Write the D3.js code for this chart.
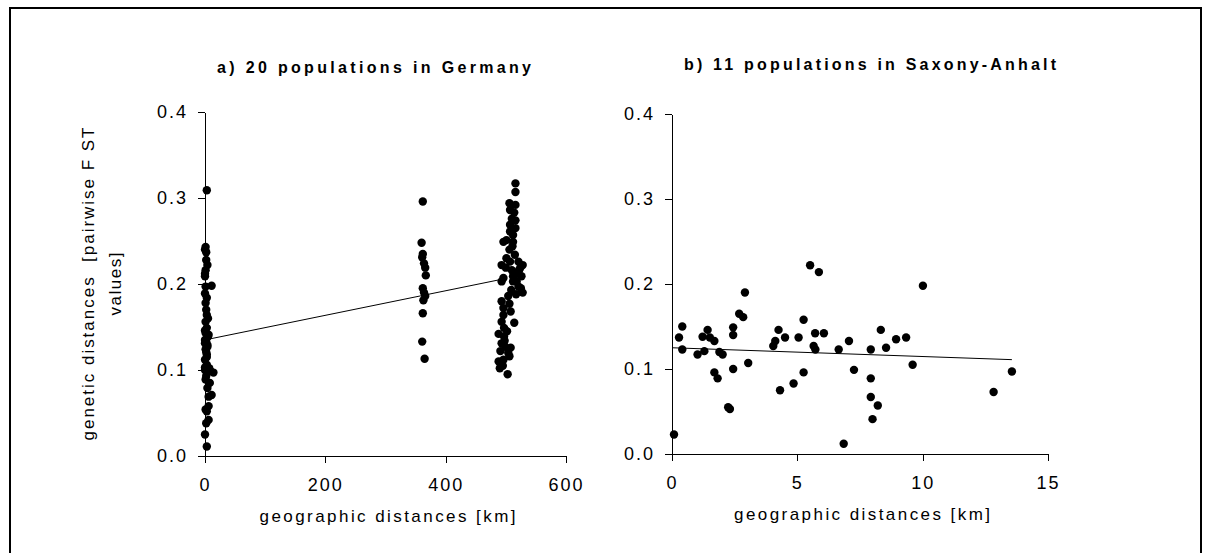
<!DOCTYPE html>
<html lang="en">
<head>
<meta charset="UTF-8">
<title>Genetic vs geographic distances</title>
<script src="https://d3js.org/d3.v7.min.js"></script>
<style>
    body { margin: 0; background: #fff; }
    text { font-family: Arial, "Liberation Sans", sans-serif; fill: #000; }
</style>
</head>
<body>
<script>
    // a) 20 populations in Germany: pairwise distance (km) and FST
    const germanyKm = [
        3, 1, 0, 2, 4, 1, 0, 11, 1, 0, 3, 1, 3, 1, 3, 1, 5, 0, 4, 1, 3, 0, 3, 0, 5, 14, 1, 8, 4, 11, 6, 6, 1, 6, 0, 3,
        2, 0, 2, 5, 0, 6, 2, 0, 4, 2, 3, 0, 2, 7, 9, 3, 2,
        362, 360, 362, 361, 364, 366, 367, 362, 364, 366, 363, 362, 361, 365,
        516, 516, 506, 516, 507, 510, 516, 507, 516, 507, 512, 501, 496, 512, 506, 515, 501, 493, 507, 521, 528, 510,
        522, 496, 512, 526, 518, 493, 512, 521, 528, 493, 506, 496, 508, 496, 493, 514, 497, 488, 497, 493, 499, 508,
        491, 506, 496, 488, 490, 503, 519, 524, 500, 509, 504, 517, 498, 502, 511, 514, 504, 495, 525
    ];
    const germanyFst = [
        0.309, 0.243, 0.240, 0.228, 0.222, 0.216, 0.209, 0.198, 0.197, 0.189, 0.184, 0.178, 0.164, 0.156, 0.149, 0.143,
        0.139, 0.135, 0.129, 0.124, 0.118, 0.112, 0.106, 0.100, 0.098, 0.097, 0.089, 0.085, 0.079, 0.071, 0.069, 0.058,
        0.054, 0.042, 0.025, 0.011,
        0.237, 0.212, 0.170, 0.160, 0.146, 0.141, 0.133, 0.131, 0.127, 0.121, 0.115, 0.103, 0.093, 0.102, 0.099, 0.052, 0.038,
        0.296, 0.248, 0.235, 0.231, 0.224, 0.219, 0.210, 0.195, 0.190, 0.186, 0.181, 0.166, 0.133, 0.113,
        0.317, 0.307, 0.294, 0.292, 0.286, 0.276, 0.274, 0.269, 0.265, 0.261, 0.257, 0.251, 0.249, 0.249, 0.240, 0.234,
        0.230, 0.222, 0.226, 0.226, 0.222, 0.216, 0.216, 0.207, 0.209, 0.209, 0.203, 0.203, 0.203, 0.197, 0.190, 0.180,
        0.177, 0.172, 0.168, 0.164, 0.156, 0.155, 0.149, 0.142, 0.139, 0.131, 0.127, 0.126, 0.122, 0.116, 0.112, 0.110,
        0.102, 0.095, 0.212, 0.219, 0.219, 0.193, 0.186, 0.188, 0.134, 0.145, 0.244, 0.283, 0.120, 0.105, 0.195
    ];
    const germanyTrendKm = [0, 490];
    const germanyTrendFst = [0.135, 0.205];

    // b) 11 populations in Saxony-Anhalt
    const saxonyKm = [
        0.08, 0.28, 0.41, 0.41, 1.02, 1.22, 1.29, 1.42, 1.51, 1.69, 1.69, 1.82, 1.89, 2.02, 2.24, 2.31, 2.44, 2.44, 2.44,
        2.68, 2.84, 2.91, 3.04, 4.04, 4.12, 4.25, 4.31, 4.51, 4.85, 5.05, 5.25, 5.25, 5.51, 5.65, 5.71, 5.72, 5.86, 6.06,
        6.65, 6.85, 7.06, 7.26, 7.93, 7.93, 7.93, 8.0, 8.21, 8.33, 8.54, 8.94, 9.34, 9.60, 10.01, 12.83, 13.56
    ];
    const saxonyFst = [
        0.023, 0.137, 0.150, 0.123, 0.117, 0.138, 0.121, 0.146, 0.137, 0.133, 0.096, 0.089, 0.120, 0.117, 0.055, 0.053,
        0.149, 0.140, 0.100, 0.165, 0.161, 0.190, 0.107, 0.127, 0.133, 0.146, 0.075, 0.137, 0.083, 0.137, 0.158, 0.096,
        0.222, 0.127, 0.142, 0.123, 0.214, 0.142, 0.123, 0.012, 0.133, 0.099, 0.123, 0.089, 0.067, 0.041, 0.057, 0.146,
        0.125, 0.135, 0.137, 0.105, 0.198, 0.073, 0.097
    ];
    const saxonyTrendKm = [0, 13.56];
    const saxonyTrendFst = [0.125, 0.111];

    const fstTicks = [0, 0.1, 0.2, 0.3, 0.4];
    const germanyTicks = [0, 200, 400, 600];
    const saxonyTicks = [0, 5, 10, 15];

    const svg = d3.select("body").append("svg")
        .attr("width", 1216)
        .attr("height", 553);

    // frame round the whole figure (bottom edge runs off the picture)
    svg.append("rect")
        .attr("x", 10).attr("y", 8)
        .attr("width", 1191).attr("height", 570)
        .attr("fill", "none")
        .attr("stroke", "#000")
        .attr("stroke-width", 2);

    function drawPanel(opt) {
        const x = d3.scaleLinear().domain(opt.xDomain).range(opt.xRange);
        const y = d3.scaleLinear().domain([0, 0.4]).range(opt.yRange);

        const gy = svg.append("g")
            .attr("transform", `translate(${opt.xRange[0]},0)`)
            .call(d3.axisLeft(y).tickValues(fstTicks).tickFormat(d3.format(".1f"))
                .tickSize(7).tickSizeOuter(0).tickPadding(10));
        const gx = svg.append("g")
            .attr("transform", `translate(0,${opt.yRange[0]})`)
            .call(d3.axisBottom(x).tickValues(opt.xTicks)
                .tickSize(7).tickSizeOuter(0).tickPadding(15));

        [gy, gx].forEach(g => {
            g.selectAll("path, line").attr("stroke", "#000").attr("shape-rendering", "crispEdges");
            g.selectAll("text")
                .attr("font-family", "Arial, 'Liberation Sans', sans-serif")
                .attr("font-size", 18)
                .attr("letter-spacing", 2)
                .attr("fill", "#000");
        });

        // points
        svg.append("g").selectAll("circle")
            .data(d3.zip(opt.xs, opt.ys))
            .join("circle")
            .attr("cx", d => x(d[0]))
            .attr("cy", d => y(d[1]))
            .attr("r", 4.2)
            .attr("fill", "#000");

        // regression line
        svg.append("path")
            .datum(d3.zip(opt.trendX, opt.trendY))
            .attr("fill", "none")
            .attr("stroke", "#000")
            .attr("stroke-width", 1)
            .attr("d", d3.line().x(d => x(d[0])).y(d => y(d[1])));

        svg.append("text")
            .attr("x", opt.titleX).attr("y", opt.titleY)
            .attr("text-anchor", "middle")
            .attr("font-size", 16)
            .attr("font-weight", "bold")
            .attr("textLength", opt.titleLen)
            .attr("lengthAdjust", "spacing")
            .text(opt.title);

        svg.append("text")
            .attr("x", (opt.xRange[0] + opt.xRange[1]) / 2 + 2)
            .attr("y", opt.xLabelY)
            .attr("text-anchor", "middle")
            .attr("font-size", 17)
            .attr("textLength", 256)
            .attr("lengthAdjust", "spacing")
            .text("geographic distances [km]");
        return y;
    }

    const yLeft = drawPanel({
        xs: germanyKm, ys: germanyFst, trendX: germanyTrendKm, trendY: germanyTrendFst,
        xDomain: [0, 600], xRange: [205, 566], yRange: [456, 112], xTicks: germanyTicks,
        title: "a) 20 populations in Germany", titleX: 374, titleY: 73, titleLen: 314,
        xLabelY: 522
    });

    drawPanel({
        xs: saxonyKm, ys: saxonyFst, trendX: saxonyTrendKm, trendY: saxonyTrendFst,
        xDomain: [0, 15], xRange: [672, 1048], yRange: [454, 114], xTicks: saxonyTicks,
        title: "b) 11 populations in Saxony-Anhalt", titleX: 870, titleY: 70, titleLen: 372,
        xLabelY: 520
    });

    // y axis title, two lines, rotated
    const yMid = (yLeft(0) + yLeft(0.4)) / 2;
    svg.append("text")
        .attr("transform", `translate(94,${yMid}) rotate(-90)`)
        .attr("text-anchor", "middle")
        .attr("font-size", 17)
        .attr("textLength", 313)
        .attr("lengthAdjust", "spacing")
        .style("white-space", "pre")
        .text("genetic distances  [pairwise F ST");
    svg.append("text")
        .attr("transform", `translate(121,${yMid}) rotate(-90)`)
        .attr("text-anchor", "middle")
        .attr("font-size", 17)
        .attr("textLength", 63)
        .attr("lengthAdjust", "spacing")
        .text("values]");
</script>
</body>
</html>
